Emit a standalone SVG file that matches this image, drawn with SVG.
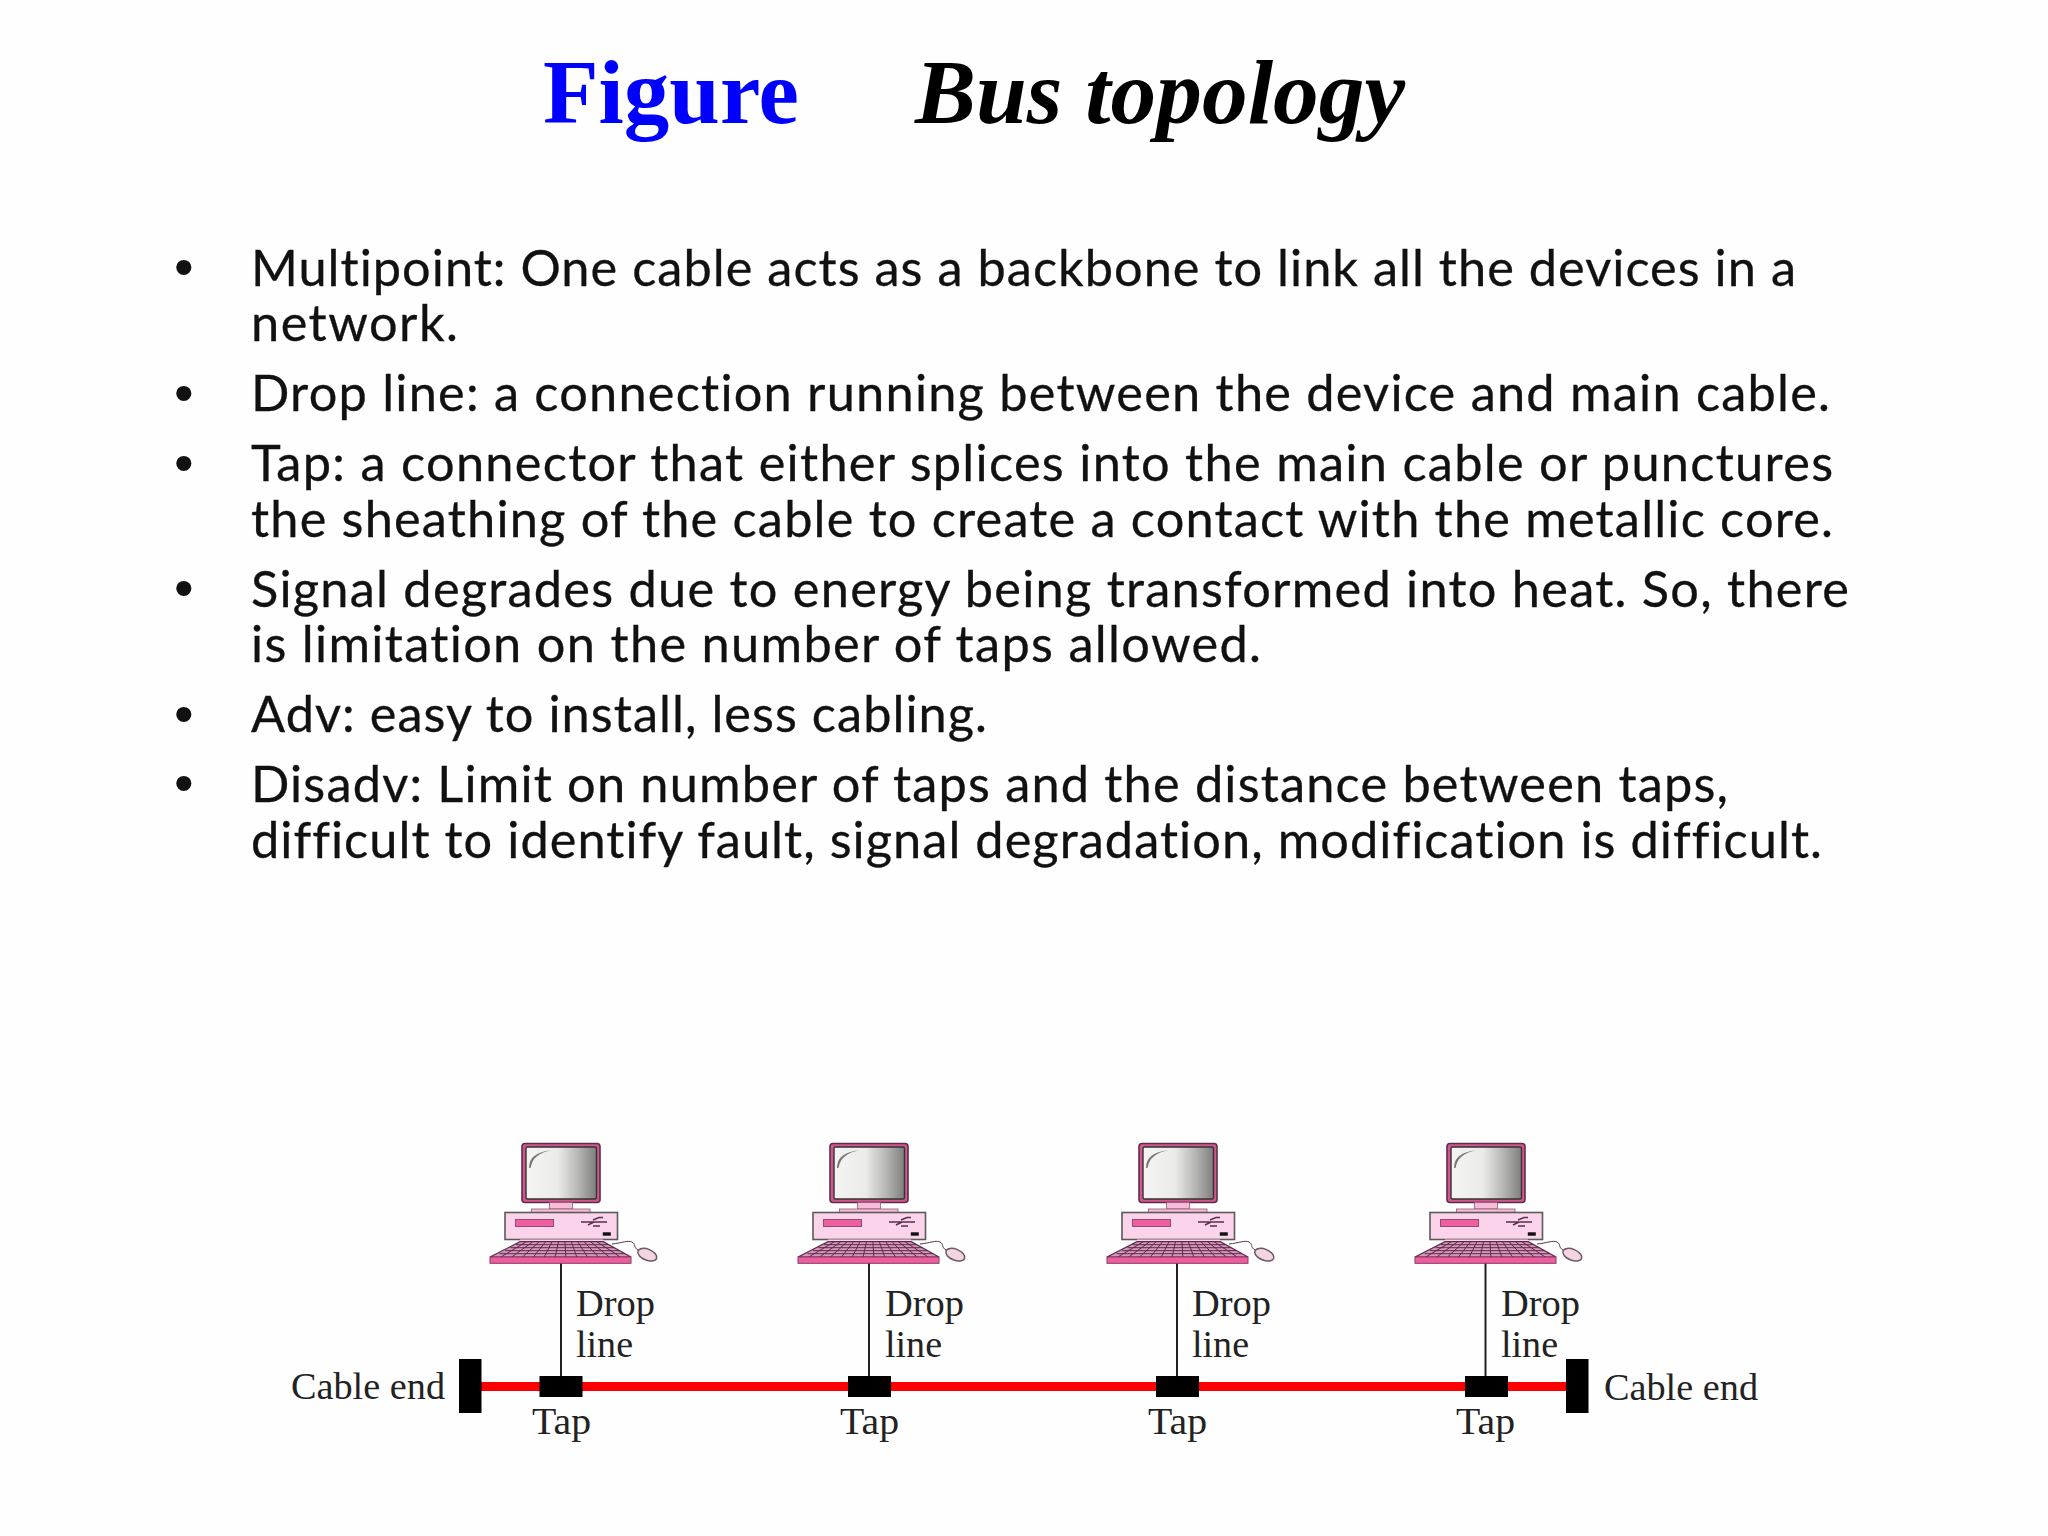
<svg xmlns="http://www.w3.org/2000/svg" xmlns:xlink="http://www.w3.org/1999/xlink" width="2048" height="1536" viewBox="0 0 2048 1536">
<style>
.b{font-family:"Lato","Carlito","Noto Sans",sans-serif;font-size:50.500px;fill:#111;stroke:#111;stroke-width:.3;font-variant-ligatures:none}
.bu{font-family:"Liberation Sans",Arial,sans-serif;font-size:56px;fill:#111}
.l{font-family:"Liberation Serif","Times New Roman",serif;font-size:38.500px;fill:#222}
.t{font-family:"Liberation Serif","Times New Roman",serif;font-size:92px;font-weight:bold}
.cab{stroke:#f00;stroke-width:9;fill:none}
.dr{stroke:#222;stroke-width:2;fill:none}
.k{fill:#000}
</style>
<defs>
<linearGradient id="scr" x1="0" x2="1" y1="0" y2="0">
<stop offset="0" stop-color="#f4f4f2"/><stop offset=".45" stop-color="#ebebe8"/><stop offset=".75" stop-color="#b4b4b2"/><stop offset="1" stop-color="#7e7e7e"/>
</linearGradient>
<g id="pc">
<rect x="522" y="1143.500" width="78" height="59" rx="3" fill="#d4568e" stroke="#59304a" stroke-width="1.600"/>
<rect x="526" y="1147" width="70.500" height="52" rx="1.500" fill="url(#scr)" stroke="#333" stroke-width="1.400"/>
<path d="M529 1168Q529 1152 551.500 1150.500Q533 1153 530.500 1168Z" fill="#777"/>
<rect x="549.500" y="1202.500" width="23" height="6.500" fill="#f8bcd8" stroke="#8a5a74" stroke-width=".8"/>
<rect x="531.500" y="1209" width="58.500" height="3.500" fill="#f8bcd8" stroke="#8a5a74" stroke-width=".8"/>
<rect x="505" y="1212.500" width="112.500" height="27" fill="#fbd3ea" stroke="#5a5a5a" stroke-width="1.600"/>
<rect x="515.500" y="1219.500" width="38" height="7" fill="#ee5fa0" stroke="#9a4a70" stroke-width="1"/>
<path d="M581 1222H607M593 1220L599 1217.500H603M588 1225L594 1222M593 1226H600" stroke="#59304a" stroke-width="1.400" fill="none"/>
<rect x="602.800" y="1232.300" width="8" height="3.400" fill="#111"/>
<rect x="520" y="1239.500" width="83" height="2.500" fill="#fbd3ea"/>
<path d="M520 1241.700H603.300L631 1257H490Z" fill="#d898bc" stroke="#5a2a48" stroke-width="1.200"/>
<path d="M516 1244.700H608.500M510.500 1247.700H614M505 1250.700H619.500M499.500 1253.700H625M526.400 1241.700L500.800 1257M532.800 1241.700L511.700 1257M539.200 1241.700L522.500 1257M545.600 1241.700L533.400 1257M552 1241.700L544.200 1257M558.500 1241.700L555.100 1257M564.900 1241.700L565.900 1257M571.300 1241.700L576.800 1257M577.700 1241.700L587.600 1257M584.100 1241.700L598.500 1257M590.500 1241.700L609.300 1257M596.900 1241.700L620.200 1257" stroke="#5a2a48" stroke-width="1" fill="none"/>
<rect x="490" y="1257" width="141" height="6.300" fill="#ee5fa0" stroke="#8a3a64" stroke-width="1"/>
<path d="M612 1244C622 1243 628 1240 632 1242C636 1244 633 1247 638 1250" stroke="#59304a" stroke-width="1" fill="none"/>
<ellipse cx="647.300" cy="1254.700" rx="10" ry="5.500" transform="rotate(22 647.300 1254.700)" fill="#f4d4e2" stroke="#6a5a62" stroke-width="1.500"/>
</g>
</defs>
<rect width="2048" height="1536" fill="#fefefe"/>
<g id="title">
<text class="t" x="543" y="123" fill="#0000ff" textLength="256" lengthAdjust="spacingAndGlyphs">Figure</text>
<text class="t" x="915" y="123" fill="#000" font-style="italic" textLength="490" lengthAdjust="spacingAndGlyphs">Bus topology</text>
</g>
<g id="bullets">
<text class="bu" x="174" y="286">•</text>
<text class="bu" x="174" y="411.500">•</text>
<text class="bu" x="174" y="481.500">•</text>
<text class="bu" x="174" y="607">•</text>
<text class="bu" x="174" y="732.500">•</text>
<text class="bu" x="174" y="802">•</text>
<text class="b" x="251" y="286" textLength="1545">Multipoint: One cable acts as a backbone to link all the devices in a</text>
<text class="b" x="251" y="341" textLength="207">network.</text>
<text class="b" x="251" y="411" textLength="1579">Drop line: a connection running between the device and main cable.</text>
<text class="b" x="251" y="481" textLength="1582">Tap: a connector that either splices into the main cable or punctures</text>
<text class="b" x="251" y="537" textLength="1582">the sheathing of the cable to create a contact with the metallic core.</text>
<text class="b" x="251" y="607" textLength="1598">Signal degrades due to energy being transformed into heat. So, there</text>
<text class="b" x="251" y="662" textLength="1010">is limitation on the number of taps allowed.</text>
<text class="b" x="251" y="732" textLength="736">Adv: easy to install, less cabling.</text>
<text class="b" x="251" y="802" textLength="1477">Disadv: Limit on number of taps and the distance between taps,</text>
<text class="b" x="251" y="858" textLength="1571">difficult to identify fault, signal degradation, modification is difficult.</text>
</g>
<g id="connectors">
<path class="cab" d="M481 1386.500H1566"/>
<path class="dr" d="M561 1263V1376M869 1263V1376M1177 1263V1376M1485.500 1263V1376"/>
</g>
<g id="pc1"><use href="#pc" xlink:href="#pc"/></g>
<g id="pc2"><use href="#pc" xlink:href="#pc" x="308"/></g>
<g id="pc3"><use href="#pc" xlink:href="#pc" x="617"/></g>
<g id="pc4"><use href="#pc" xlink:href="#pc" x="925"/></g>
<g id="end-left"><rect class="k" x="459" y="1359" width="22.500" height="54"/><text class="l" x="291" y="1399" textLength="154" lengthAdjust="spacingAndGlyphs">Cable end</text></g>
<g id="end-right"><rect class="k" x="1566" y="1359" width="22.500" height="54"/><text class="l" x="1604" y="1400" textLength="154" lengthAdjust="spacingAndGlyphs">Cable end</text></g>
<g id="tap1"><rect class="k" x="539.500" y="1376" width="43" height="21"/><text class="l" x="532" y="1434" textLength="59" lengthAdjust="spacingAndGlyphs">Tap</text></g>
<g id="tap2"><rect class="k" x="848" y="1376" width="43" height="21"/><text class="l" x="840" y="1434" textLength="59" lengthAdjust="spacingAndGlyphs">Tap</text></g>
<g id="tap3"><rect class="k" x="1156" y="1376" width="43" height="21"/><text class="l" x="1148" y="1434" textLength="59" lengthAdjust="spacingAndGlyphs">Tap</text></g>
<g id="tap4"><rect class="k" x="1465" y="1376" width="43" height="21"/><text class="l" x="1456" y="1434" textLength="59" lengthAdjust="spacingAndGlyphs">Tap</text></g>
<g id="drop1"><text class="l" x="576" y="1316" textLength="79" lengthAdjust="spacingAndGlyphs">Drop</text><text class="l" x="576" y="1357" textLength="57" lengthAdjust="spacingAndGlyphs">line</text></g>
<g id="drop2"><text class="l" x="885" y="1316" textLength="79" lengthAdjust="spacingAndGlyphs">Drop</text><text class="l" x="885" y="1357" textLength="57" lengthAdjust="spacingAndGlyphs">line</text></g>
<g id="drop3"><text class="l" x="1192" y="1316" textLength="79" lengthAdjust="spacingAndGlyphs">Drop</text><text class="l" x="1192" y="1357" textLength="57" lengthAdjust="spacingAndGlyphs">line</text></g>
<g id="drop4"><text class="l" x="1501" y="1316" textLength="79" lengthAdjust="spacingAndGlyphs">Drop</text><text class="l" x="1501" y="1357" textLength="57" lengthAdjust="spacingAndGlyphs">line</text></g>
</svg>
